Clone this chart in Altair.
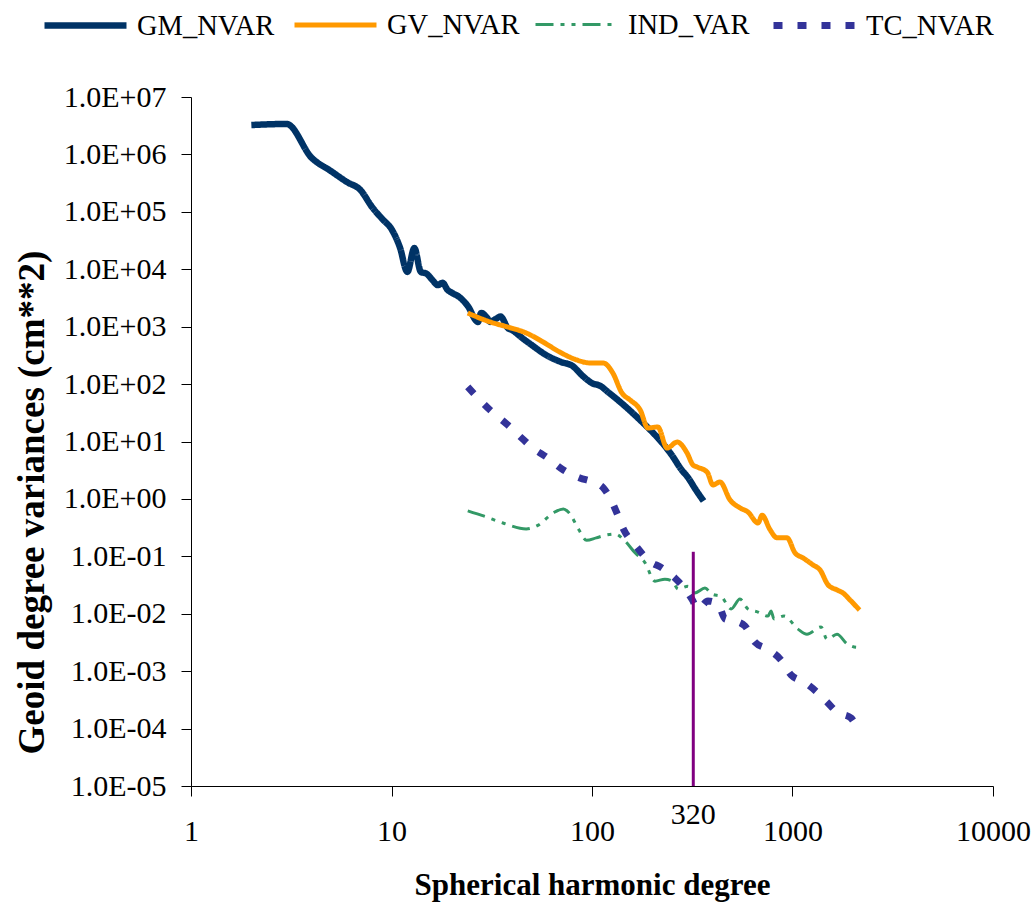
import altair as alt
import pandas as pd

# ---------------- data ----------------
series_names = ["GM_NVAR", "GV_NVAR", "IND_VAR", "TC_NVAR"]
series_colors = ["#003366", "#FF9900", "#339966", "#333399"]
series_dashes = [[1, 0], [1, 0], [18, 7, 4, 7, 4, 7], [9, 15]]
series_widths = [6.5, 5, 3, 7]

gm_deg = [2, 3, 4, 5, 6, 7, 8, 9, 10, 11, 12, 13, 14, 15, 16, 17, 18, 19, 20, 22, 24, 27, 28,
          30, 31, 33, 35, 38, 40, 45, 50, 60, 70, 80, 90, 100, 110, 120, 140, 160, 180, 200,
          220, 250, 280, 300, 330, 360]
gm_var = [3.25e6, 3.39e6, 8.7e5, 5.1e5, 3.3e5, 2.4e5, 1.21e5, 7.5e4, 5.0e4, 2.44e4, 9.0e3,
          2.34e4, 9.0e3, 8.3e3, 6.5e3, 5.3e3, 5.8e3, 4.4e3, 3.9e3, 3.2e3, 2.3e3, 1.21e3, 1.73e3,
          1.42e3, 1.21e3, 1.35e3, 1.5e3, 950, 870, 630, 480, 310, 243, 207, 138, 104, 93, 73,
          47, 31, 21, 14.6, 10.2, 5.8, 3.2, 2.4, 1.43, 0.92]

gv_deg = [24, 31, 38, 47, 57, 69, 84, 98, 114, 127, 141, 155, 174, 190, 213, 237, 266, 298,
          319, 334, 375, 401, 435, 488, 547, 600, 673, 705, 773, 837, 939, 1029, 1128, 1265,
          1372, 1503, 1667, 1786, 1936, 2160]
gv_var = [1.73e3, 1.21e3, 986, 776, 541, 362, 263, 233, 233, 156, 70, 52.8, 35.4, 17.2, 17.9,
          7.7, 9.8, 6.3, 3.9, 3.6, 2.94, 1.75, 1.97, 0.96, 0.70, 0.59, 0.38, 0.52, 0.29, 0.21,
          0.21, 0.115, 0.094, 0.071, 0.058, 0.032, 0.026, 0.023, 0.0174, 0.0116]

ind_deg = [24, 29, 36, 47, 54, 64, 72, 77, 86, 94, 105, 118, 130, 146, 164, 184, 206, 231, 251,
           269, 301, 326, 366, 397, 440, 494, 547, 600, 673, 755, 781, 809, 907, 1065, 1181,
           1387, 1486, 1667, 1870, 2098, 2160]
ind_var = [0.62, 0.50, 0.38, 0.30, 0.35, 0.57, 0.67, 0.57, 0.29, 0.19, 0.21, 0.235, 0.245,
           0.185, 0.115, 0.077, 0.037, 0.040, 0.037, 0.027, 0.030, 0.023, 0.028, 0.022, 0.020,
           0.0121, 0.018, 0.0121, 0.0107, 0.0091, 0.0112, 0.0081, 0.0091, 0.0054, 0.0044,
           0.0059, 0.0036, 0.0044, 0.0030, 0.0026, 0.0026]

tc_deg = [24, 31, 38, 44, 50, 60, 72, 87, 101, 114, 123, 133, 144, 164, 193, 223, 259, 291, 315,
          338, 379, 425, 461, 517, 580, 650, 755, 876, 983, 1141, 1325, 1486, 1667, 1958, 2098,
          2160]
tc_var = [89, 35.4, 19.4, 12.0, 8.0, 5.2, 3.19, 2.32, 1.97, 1.55, 1.04, 0.57, 0.29, 0.158,
          0.083, 0.063, 0.042, 0.027, 0.018, 0.0121, 0.0167, 0.0148, 0.0081, 0.0075, 0.0061,
          0.0032, 0.0024, 0.00157, 0.00086, 0.00065, 0.00043, 0.00029, 0.000195, 0.000153,
          0.000107, 9.5e-5]

cut_degree = [320]
cut_low = [1e-5]
cut_high = [0.12]
cut_label = ["320"]

x_ticks = [1, 10, 100, 1000, 10000]
y_ticks = [1e7, 1e6, 1e5, 1e4, 1e3, 1e2, 1e1, 1e0, 1e-1, 1e-2, 1e-3, 1e-4, 1e-5]
y_tick_labels = ["1.0E+07", "1.0E+06", "1.0E+05", "1.0E+04", "1.0E+03", "1.0E+02", "1.0E+01",
                 "1.0E+00", "1.0E-01", "1.0E-02", "1.0E-03", "1.0E-04", "1.0E-05"]

# ---------------- tables ----------------
rows = []
for name, degs, vals in zip(series_names, [gm_deg, gv_deg, ind_deg, tc_deg],
                            [gm_var, gv_var, ind_var, tc_var]):
    for i, (d, v) in enumerate(zip(degs, vals)):
        rows.append({"series": name, "degree": d, "variance": v, "idx": i})
df = pd.DataFrame(rows)

cut_df = pd.DataFrame({"degree": cut_degree, "low": cut_low, "high": cut_high, "label": cut_label})

label_expr = "''"
for v, l in reversed(list(zip(y_ticks, y_tick_labels))):
    label_expr = f"abs(datum.value / {v!r} - 1) < 1e-6 ? '{l}' : ({label_expr})"

FONT = "Liberation Serif"

x_scale = alt.Scale(type="log", domain=[1, 10000], nice=False)
y_scale = alt.Scale(type="log", domain=[1e-5, 1e7], nice=False)

x_axis = alt.Axis(values=x_ticks, format="d", title="Spherical harmonic degree", grid=False,
                  labelFont=FONT, labelFontSize=30, labelColor="black", labelPadding=20,
                  labelFlush=False, labelOverlap=False, tickSize=10, tickColor="black",
                  domainColor="black", titleFont=FONT, titleFontSize=31, titleFontWeight="bold",
                  titleColor="black", titleY=108, titleBaseline="alphabetic")
y_axis = alt.Axis(values=y_ticks, labelExpr=label_expr, title="Geoid degree variances (cm**2)",
                  grid=False, labelFont=FONT, labelFontSize=30, labelColor="black",
                  labelPadding=15, labelOverlap=False, labelFlush=False, tickSize=10,
                  tickColor="black", domainColor="black", titleFont=FONT, titleFontSize=37,
                  titleFontWeight="bold", titleColor="black", titleX=-148, titleY=405,
                  titleBaseline="alphabetic", titleAngle=270)

legend = alt.Legend(title=None, orient="none", legendX=-150, legendY=-116, direction="horizontal",
                    columns=4, symbolType="stroke", symbolSize=6724, labelFont=FONT,
                    labelFontSize=28.5, labelColor="black", labelOffset=7, columnPadding=9,
                    padding=0, labelLimit=400)

lines = alt.Chart(df).mark_line(interpolate="monotone", strokeCap="butt", strokeJoin="round").encode(
    x=alt.X("degree:Q", scale=x_scale, axis=x_axis),
    y=alt.Y("variance:Q", scale=y_scale, axis=y_axis),
    color=alt.Color("series:N", scale=alt.Scale(domain=series_names, range=series_colors),
                    legend=legend),
    strokeDash=alt.StrokeDash("series:N", scale=alt.Scale(domain=series_names, range=series_dashes),
                              legend=legend),
    strokeWidth=alt.StrokeWidth("series:N", scale=alt.Scale(type="ordinal", domain=series_names,
                                                            range=series_widths), legend=legend),
    order="idx:Q",
)

rule = alt.Chart(cut_df).mark_rule(color="#800080", strokeWidth=3).encode(
    x=alt.X("degree:Q", scale=x_scale),
    y=alt.Y("low:Q", scale=y_scale),
    y2="high:Q",
)

txt = alt.Chart(cut_df).mark_text(font=FONT, fontSize=30, color="black", baseline="alphabetic",
                                  align="center", dy=38).encode(
    x=alt.X("degree:Q", scale=x_scale),
    y=alt.Y("low:Q", scale=y_scale),
    text="label:N",
)

chart = alt.layer(lines, rule, txt).properties(
    width=802, height=689,
    autosize=alt.AutoSizeParams(type="none"),
    padding={"left": 191, "top": 97, "right": 43, "bottom": 116},
    background="white",
).configure_view(stroke=None)

chart.save("out.html", embed_options={"renderer": "svg", "actions": False})
